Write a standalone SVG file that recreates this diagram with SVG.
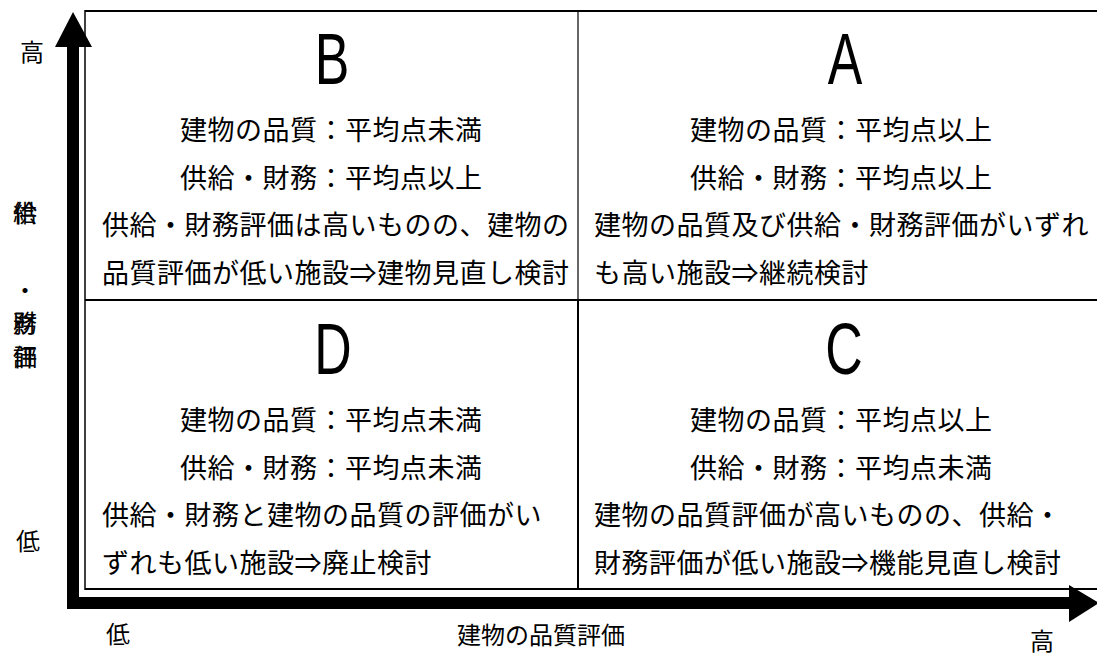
<svg xmlns="http://www.w3.org/2000/svg" width="1097" height="656" viewBox="0 0 1097 656">
<style>
.t{font-family:"Noto Sans CJK JP","Noto Sans CJK SC",sans-serif;font-size:27px;letter-spacing:0.5px;fill:#000}
.ax{font-family:"Noto Sans CJK JP","Noto Sans CJK SC",sans-serif;font-size:24px;fill:#000}
.L{font-family:"Liberation Sans",Arial,sans-serif;font-size:72px;fill:#000;text-anchor:middle}
.ln{stroke:#000;fill:none}
</style>
<rect width="1097" height="656" fill="#fff"/>
<g id="frame">
<line class="ln" x1="85" y1="11" x2="1100" y2="11" stroke-width="2"/>
<line class="ln" x1="85" y1="10" x2="85" y2="590" stroke-width="1.5"/>
<line class="ln" x1="85" y1="589" x2="1100" y2="589" stroke-width="2"/>
<line class="ln" x1="85" y1="300" x2="1100" y2="300" stroke-width="2"/>
<line class="ln" x1="578" y1="11" x2="578" y2="300" stroke-width="1.2"/>
<line class="ln" x1="578" y1="300" x2="578" y2="589" stroke-width="2"/>
</g>
<g id="cellB">
<text class="L" transform="translate(332,84) scale(0.72,1)">B</text>
<text class="t" x="180" y="140">建物の品質：平均点未満</text>
<text class="t" x="180" y="188">供給・財務：平均点以上</text>
<text class="t" x="102" y="235">供給・財務評価は高いものの、建物の</text>
<text class="t" x="102" y="283">品質評価が低い施設⇒建物見直し検討</text>
</g>
<g id="cellA">
<text class="L" transform="translate(845,84) scale(0.72,1)">A</text>
<text class="t" x="690" y="140">建物の品質：平均点以上</text>
<text class="t" x="690" y="188">供給・財務：平均点以上</text>
<text class="t" x="594" y="235">建物の品質及び供給・財務評価がいずれ</text>
<text class="t" x="594" y="283">も高い施設⇒継続検討</text>
</g>
<g id="cellD">
<text class="L" transform="translate(333,374) scale(0.72,1)">D</text>
<text class="t" x="180" y="430">建物の品質：平均点未満</text>
<text class="t" x="180" y="478">供給・財務：平均点未満</text>
<text class="t" x="102" y="525">供給・財務と建物の品質の評価がい</text>
<text class="t" x="102" y="573">ずれも低い施設⇒廃止検討</text>
</g>
<g id="cellC">
<text class="L" transform="translate(844,374) scale(0.72,1)">C</text>
<text class="t" x="690" y="430">建物の品質：平均点以上</text>
<text class="t" x="690" y="478">供給・財務：平均点未満</text>
<text class="t" x="594" y="525">建物の品質評価が高いものの、供給・</text>
<text class="t" x="594" y="573">財務評価が低い施設⇒機能見直し検討</text>
</g>
<g id="connectors">
<rect x="67" y="44" width="12" height="565" fill="#000"/>
<polygon points="73,12 55,47 92,47" fill="#000"/>
<rect x="67" y="597" width="1004" height="12" fill="#000"/>
<polygon points="1099,603 1069,585 1069,622" fill="#000"/>
</g>
<g id="axis-labels">
<text class="ax" x="32" y="61" text-anchor="middle">高</text>
<text class="ax" x="28" y="550" text-anchor="middle">低</text>
<text class="ax" x="25" y="222" text-anchor="middle">供</text>
<text class="ax" x="25" y="222" text-anchor="middle">給</text>
<text class="ax" x="25" y="299" text-anchor="middle">・</text>
<text class="ax" x="25" y="332" text-anchor="middle">財</text>
<text class="ax" x="25" y="332" text-anchor="middle">務</text>
<text class="ax" x="25" y="366" text-anchor="middle">評</text>
<text class="ax" x="25" y="366" text-anchor="middle">価</text>
<text class="ax" x="118" y="643" text-anchor="middle">低</text>
<text class="ax" x="541" y="644" text-anchor="middle">建物の品質評価</text>
<text class="ax" x="1042" y="650" text-anchor="middle">高</text>
</g>
</svg>
